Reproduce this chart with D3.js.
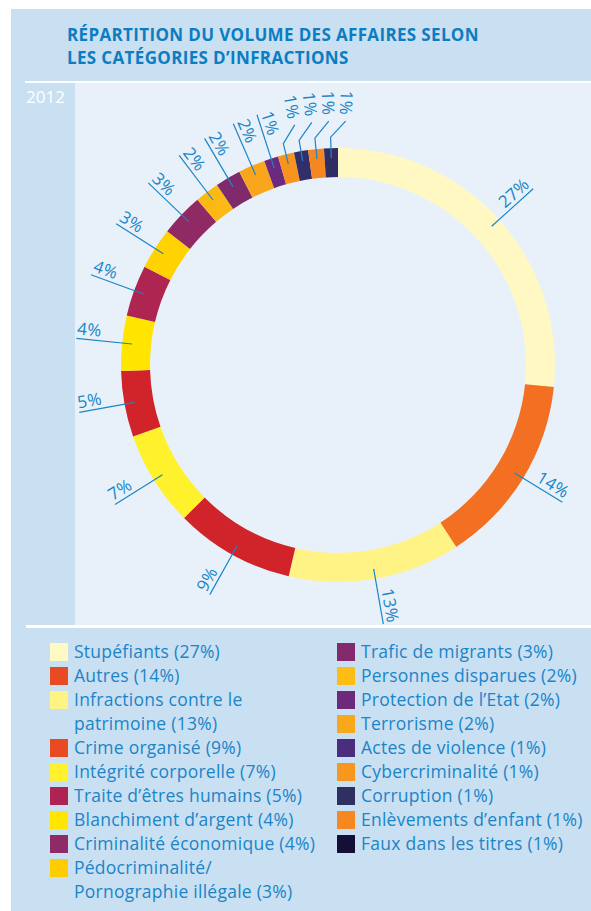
<!DOCTYPE html>
<html>
<head>
<meta charset="utf-8">
<script src="https://cdn.jsdelivr.net/npm/d3@7"></script>
<style>
  body { margin: 0; background: #fff; }
  svg text { font-family: "Open Sans", sans-serif; }
</style>
</head>
<body>
<div id="chart"></div>
<script>
// Donut - share of cases by offence category
const title = ["RÉPARTITION DU VOLUME DES AFFAIRES SELON", "LES CATÉGORIES D’INFRACTIONS"];
const year = "2012";

const categories = [
  "Stupéfiants", "Autres", "Infractions contre le\npatrimoine", "Crime organisé",
  "Intégrité corporelle", "Traite d’êtres humains", "Blanchiment d’argent",
  "Criminalité économique", "Pédocriminalité/\nPornographie illégale",
  "Trafic de migrants", "Personnes disparues", "Protection de l’Etat", "Terrorisme",
  "Actes de violence", "Cybercriminalité", "Corruption", "Enlèvements d’enfant",
  "Faux dans les titres"
];
// slice sizes
const shares = [26.6, 14.2, 12.8, 8.9, 7.1, 4.9, 4.1, 3.8, 3.1, 3.2, 1.8, 1.9, 2.0, 1.06, 1.2, 1.05, 1.17, 1.03];
// printed percentages
const percents = [27, 14, 13, 9, 7, 5, 4, 4, 3, 3, 2, 2, 2, 1, 1, 1, 1, 1];

const ringColors = ["#fff8c2", "#f36f22", "#fff386", "#d1232a", "#fff12c", "#d1232a", "#ffe500",
  "#ae2552", "#ffd200", "#912a64", "#fdb913", "#7f2b6b", "#f9a61c", "#6b2a7f", "#f7941e",
  "#322e69", "#f6861f", "#2f2d63"];
const legendColors = ["#fff9c4", "#e84b23", "#fff383", "#e84b23", "#fff22d", "#ad2452", "#ffe500",
  "#8e2a66", "#ffcc00", "#84296b", "#fdbd14", "#6d2a7b", "#f9a81c", "#4b2d7f", "#f7971d",
  "#2f2f62", "#f6881f", "#140f36"];

const W = 591, H = 911;
const blue = "#1a85c8";

const svg = d3.select("#chart").append("svg")
  .attr("width", W).attr("height", H);

// panels
svg.append("rect").attr("x", 11).attr("y", 9).attr("width", W - 11).attr("height", H - 9).attr("fill", "#c9dff2");
svg.append("rect").attr("x", 75).attr("y", 83).attr("width", W - 75).attr("height", 542).attr("fill", "#e8f1f9");
svg.append("rect").attr("x", 25).attr("y", 81).attr("width", W - 25).attr("height", 2).attr("fill", "#fff");
svg.append("rect").attr("x", 26).attr("y", 625).attr("width", W - 26).attr("height", 3).attr("fill", "#fff");

svg.append("g").selectAll("text").data(title).enter().append("text")
  .attr("x", 67).attr("y", (d, i) => 41 + i * 23)
  .attr("fill", "#0b7dc1").attr("font-size", 17).attr("font-weight", 700)
  .attr("letter-spacing", 0.35)
  .text(d => d);

svg.append("text").attr("x", 26).attr("y", 103)
  .attr("fill", "#fff").attr("font-size", 17).text(year);

// donut
const cx = 338, cy = 365, rOuter = 217, rInner = 188;
const data = categories.map((c, i) => ({ name: c, share: shares[i], pct: percents[i], i }));
const arcs = d3.pie().sort(null).value(d => d.share)(data);
const arc = d3.arc().innerRadius(rInner).outerRadius(rOuter);

const g = svg.append("g").attr("transform", `translate(${cx},${cy})`);
g.selectAll("path").data(arcs).enter().append("path")
  .attr("d", arc)
  .attr("fill", d => ringColors[d.data.i]);

const pt = (a, r) => [r * Math.sin(a), -r * Math.cos(a)];
const deg = a => a * 180 / Math.PI;

const r1 = 207, r2 = 263, rKink = 228;
let prevMid = null;
arcs.forEach(d => {
  const mid = (d.startAngle + d.endAngle) / 2;
  const crowded = prevMid !== null && deg(mid - prevMid) < 5;
  prevMid = mid;
  const label = d.data.pct + "%";

  if (!crowded) {
    const p1 = pt(mid, r1), p2 = pt(mid, r2);
    g.append("line")
      .attr("x1", p1[0]).attr("y1", p1[1]).attr("x2", p2[0]).attr("y2", p2[1])
      .attr("stroke", blue).attr("stroke-width", 1.2);
    const a = deg(mid);
    const right = a < 180;
    const rot = right ? a - 90 : a + 90 - 360;
    g.append("text")
      .attr("transform", `translate(${p2[0]},${p2[1]}) rotate(${rot})`)
      .attr("text-anchor", right ? "end" : "start")
      .attr("dy", -4)
      .attr("fill", blue).attr("font-size", 17).attr("letter-spacing", 0.3)
      .text(label);
  } else {
    // short radial stub, then a bend to the right
    const p1 = pt(mid, r1), pk = pt(mid, rKink);
    const bend = mid + Math.PI / 4;
    const pe = [pk[0] + 22 * Math.sin(bend), pk[1] - 22 * Math.cos(bend)];
    g.append("polyline")
      .attr("points", [p1, pk, pe].map(p => p.join(",")).join(" "))
      .attr("fill", "none").attr("stroke", blue).attr("stroke-width", 1.2);
    const ae = Math.atan2(pe[0], -pe[1]);
    const out = [pe[0] + 6 * Math.sin(ae), pe[1] - 6 * Math.cos(ae)];
    let rot = deg(ae) + 90;
    if (rot > 180) rot -= 360;
    g.append("text")
      .attr("transform", `translate(${out[0]},${out[1]}) rotate(${rot})`)
      .attr("text-anchor", "end")
      .attr("dy", "0.35em")
      .attr("fill", blue).attr("font-size", 17).attr("letter-spacing", 0.3)
      .text(label);
  }
});

// legend, two columns
const rowH = 24, legendTop = 643;
const cols = [{ x: 50, items: data.slice(0, 9) }, { x: 337, items: data.slice(9) }];
cols.forEach(col => {
  let row = 0;
  col.items.forEach(d => {
    const y = legendTop + row * rowH;
    svg.append("rect").attr("x", col.x).attr("y", y).attr("width", 18).attr("height", 18)
      .attr("fill", legendColors[d.i]);
    const lines = d.name.split("\n");
    lines[lines.length - 1] += " (" + d.pct + "%)";
    const t = svg.append("text").attr("fill", blue).attr("font-size", 17.5).attr("letter-spacing", 0.25);
    lines.forEach((ln, k) => {
      t.append("tspan").attr("x", col.x + 24).attr("y", y + 15 + k * rowH).text(ln);
    });
    row += lines.length;
  });
});
</script>
</body>
</html>
